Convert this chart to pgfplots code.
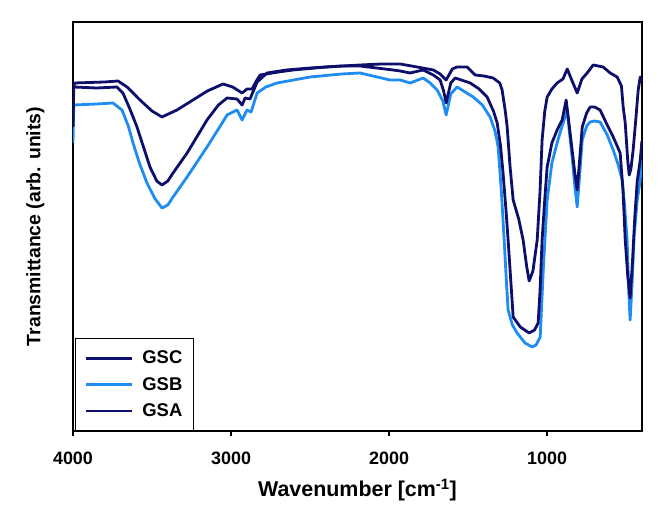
\documentclass[border=0pt]{standalone}
\usepackage{fontspec}
\setmainfont{Liberation Sans}
\usepackage{pgfplots}
\pgfplotsset{compat=1.18}
\definecolor{dark}{RGB}{14,14,108}
\definecolor{light}{RGB}{30,140,240}
\begin{document}
\begin{tikzpicture}
\useasboundingbox (-73bp,-90bp) rectangle (587bp,431bp);
\begin{axis}[
  scale only axis, width=569bp, height=409bp,
  x dir=reverse, xmin=400, xmax=4000, ymin=0, ymax=409,
  xtick={1000,2000,3000,4000}, ytick=\empty,
  xtick pos=bottom, tick align=outside, major tick length=5bp,
  axis line style={line width=2.6bp}, major tick style={line width=2bp, black},
  /pgf/number format/assume math mode=true,
  /pgf/number format/1000 sep={},
  ticklabel style={font=\bfseries\fontsize{18}{20}\selectfont},
  xticklabel style={yshift=-12bp},
  xlabel={Wavenumber [cm\textsuperscript{-1}]},
  ylabel={Transmittance (arb. units)},
  label style={font=\bfseries\fontsize{19.5}{22}\selectfont},
  xlabel style={yshift=-8bp, font=\bfseries\fontsize{21.5}{24}\selectfont},
  ylabel style={yshift=20bp},
  legend style={at={(0.003,0)}, anchor=south west, draw=black, line width=0.8bp,
    font=\bfseries\fontsize{18.5}{21}\selectfont, row sep=7bp,
    inner xsep=9bp, inner ysep=10bp, nodes={inner sep=2.5bp},
    /tikz/every odd column/.append style={column sep=7bp}},
  legend cell align=left,
  legend image code/.code={\draw[#1, line width=2.8bp] (0bp,0bp) -- (46bp,0bp);},
  every axis plot/.append style={line width=2.8bp, line join=round},
]
% GSC
\addplot[dark] coordinates {
(4000,340) (3990,348) (3800,349) (3715,350) (3658,344) (3576,331) (3500,320)
(3437,314) (3342,321) (3241,331) (3150,340) (3051,347) (2990,344) (2930,338)
(2899,342) (2867,342) (2840,350) (2816,356) (2700,359) (2608,361) (2400,364)
(2184,366) (2050,367) (1930,367) (1823,364) (1720,361) (1677,357) (1639,351)
(1600,362) (1570,364) (1506,364) (1456,356) (1400,355) (1342,353) (1300,348)
(1285,341) (1265,320) (1253,304) (1235,265) (1215,231) (1180,212) (1152,191)
(1130,165) (1114,150) (1090,160) (1063,191) (1045,240) (1032,291) (1015,320)
(1000,334) (970,342) (937,348) (900,352) (873,362) (842,350) (810,338) (780,352)
(747,358) (709,366) (646,364) (601,358) (557,354) (530,345) (519,324) (506,308)
(490,270) (481,256) (470,262) (456,281) (440,310) (424,341) (411,354) (400,350)
};
% GSB
\addplot[light] coordinates {
(4000,288) (3995,326) (3850,327) (3747,328) (3690,321) (3650,305) (3620,288)
(3580,268) (3532,248) (3480,232) (3437,223) (3400,226) (3367,234) (3278,254)
(3152,284) (3080,302) (3025,316) (2962,321) (2930,311) (2899,321) (2873,319)
(2835,338) (2780,344) (2709,348) (2500,354) (2300,357) (2184,358) (1994,351)
(1930,351) (1867,348) (1785,353) (1740,348) (1696,341) (1660,330) (1639,316)
(1610,337) (1570,344) (1468,334) (1410,326) (1361,314) (1330,300) (1310,284)
(1290,240) (1272,191) (1258,150) (1247,121) (1220,106) (1190,98) (1140,88)
(1095,84) (1070,86) (1044,94) (1025,160) (1000,231) (970,268) (937,288)
(915,300) (899,308) (873,321) (860,300) (842,274) (825,245) (810,224) (795,255)
(778,291) (750,305) (728,309) (700,310) (665,309) (620,296) (582,281) (550,266)
(525,251) (510,225) (494,191) (484,140) (475,111) (462,150) (450,195) (430,231)
(411,251) (400,290)
};
% GSA
\addplot[dark] coordinates {
(4000,304) (3995,344) (3850,343) (3722,344) (3684,338) (3640,322) (3595,304)
(3550,282) (3513,264) (3470,250) (3437,246) (3400,250) (3367,258) (3278,278)
(3152,311) (3080,326) (3025,333) (2962,332) (2930,326) (2911,333) (2880,332)
(2835,349) (2772,358) (2650,361) (2500,363) (2300,365) (2184,365) (1975,361)
(1930,360) (1867,358) (1785,361) (1720,356) (1677,351) (1655,340) (1639,328)
(1610,348) (1582,353) (1487,348) (1430,342) (1380,334) (1340,320) (1316,308)
(1295,285) (1279,258) (1260,220) (1247,191) (1230,150) (1215,114) (1170,104)
(1114,98) (1080,101) (1057,108) (1045,140) (1032,191) (1015,232) (1000,264)
(970,288) (937,301) (905,311) (880,331) (860,305) (842,281) (825,258) (810,241)
(795,270) (778,304) (750,318) (728,324) (700,324) (665,321) (620,306) (582,294)
(560,286) (538,278) (520,240) (506,191) (490,155) (475,133) (460,170) (445,215)
(430,250) (411,271) (400,290)
};
\legend{GSC,GSB,GSA}
\end{axis}
\end{tikzpicture}
\end{document}
